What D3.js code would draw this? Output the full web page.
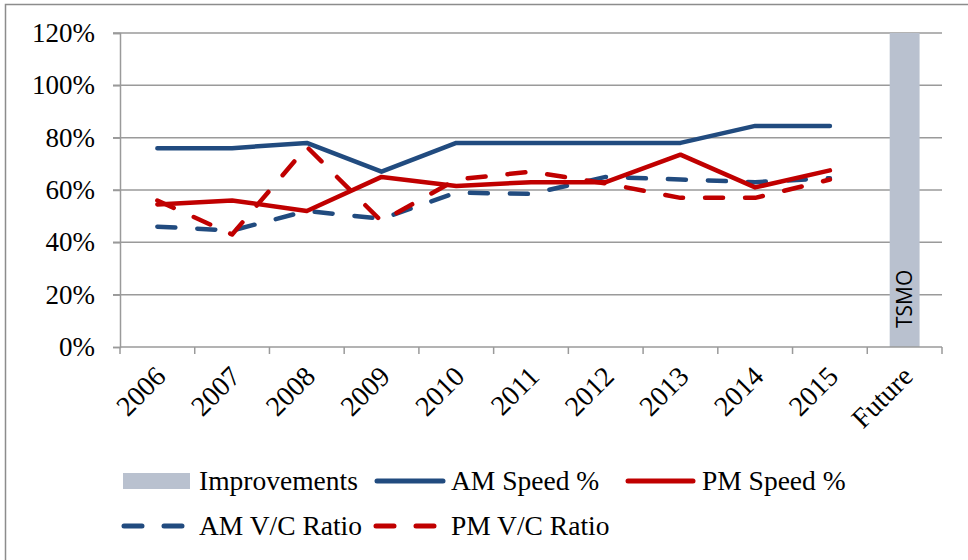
<!DOCTYPE html>
<html>
<head>
<meta charset="utf-8">
<script src="https://cdn.jsdelivr.net/npm/d3@7"></script>
<style>
  html, body { margin: 0; padding: 0; background: #fff; }
  svg { display: block; }
</style>
</head>
<body>
<svg id="chart" width="968" height="560"></svg>
<script>
// Categories along the x axis
const categories = ["2006", "2007", "2008", "2009", "2010", "2011", "2012", "2013", "2014", "2015", "Future"];
const years = categories.slice(0, 10);

// Series values (percent)
const amSpeed = [76, 76, 78, 67, 78, 78, 78, 78, 84.5, 84.5];
const pmSpeed = [54.5, 56, 52, 65, 61.5, 63, 63, 73.5, 61, 67.5];
const amVC    = [46, 44.5, 52, 49, 59, 58.5, 65, 64, 63, 64.5];
const pmVC    = [56, 43, 76.5, 48, 64, 67, 62.5, 57, 57, 64];

// Improvements bar (only the "Future" category)
const improvements = [{ cat: "Future", value: 120, label: "TSMO" }];

// Y axis tick values (percent)
const yTicks = [0, 20, 40, 60, 80, 100, 120];

const BLUE = "#214B7F";
const RED = "#C00000";
const GREY_BAR = "#B9C1CF";
const GRID = "#9a9a9a";
const SERIF = "'Liberation Serif', 'Times New Roman', serif";

const svg = d3.select("#chart");

// Outer frame
svg.append("rect")
  .attr("x", 5.5).attr("y", 4.5)
  .attr("width", 1000).attr("height", 600)
  .attr("fill", "none").attr("stroke", "#8c8c8c").attr("stroke-width", 1.5);

const x = d3.scaleBand().domain(categories).range([120, 942]).paddingInner(0).paddingOuter(0);
const y = d3.scaleLinear().domain([0, 120]).range([347, 33]);
const cx = d => x(d) + x.bandwidth() / 2;

// Horizontal gridlines
svg.append("g").selectAll("line").data(yTicks.filter(t => t > 0)).join("line")
  .attr("x1", 113).attr("x2", 942)
  .attr("y1", d => y(d)).attr("y2", d => y(d))
  .attr("stroke", GRID).attr("stroke-width", 1.5);

// Improvements bar
const barW = x.bandwidth() * 0.4;
svg.append("g").selectAll("rect").data(improvements).join("rect")
  .attr("x", d => cx(d.cat) - barW / 2)
  .attr("width", barW)
  .attr("y", d => y(d.value))
  .attr("height", d => y(0) - y(d.value))
  .attr("fill", GREY_BAR);

svg.append("g").selectAll("text").data(improvements).join("text")
  .attr("transform", d => `translate(${cx(d.cat) + 7.5},${y(0) - 19}) rotate(-90)`)
  .attr("font-family", "'Open Sans', 'Noto Sans', sans-serif")
  .attr("font-size", 21)
  .attr("fill", "#000")
  .text(d => d.label);

// Y axis
const yAxis = d3.axisLeft(y).tickValues(yTicks).tickSize(7).tickPadding(18).tickFormat(d => d + "%");
const gy = svg.append("g").attr("transform", "translate(120,0)").call(yAxis);
gy.select(".domain").attr("stroke", GRID).attr("stroke-width", 1.5);
gy.selectAll(".tick line").attr("stroke", GRID).attr("stroke-width", 1.5);
gy.selectAll(".tick text").attr("font-family", SERIF).attr("font-size", 27).attr("fill", "#000");

// X axis with ticks at band boundaries
const bounds = categories.map(c => x(c)).concat([x.range()[1]]);
svg.append("line")
  .attr("x1", 120).attr("x2", 942).attr("y1", y(0)).attr("y2", y(0))
  .attr("stroke", GRID).attr("stroke-width", 1.5);
svg.append("g").selectAll("line").data(bounds).join("line")
  .attr("x1", d => d).attr("x2", d => d)
  .attr("y1", y(0)).attr("y2", y(0) + 7)
  .attr("stroke", GRID).attr("stroke-width", 1.5);

svg.append("g").selectAll("text").data(categories).join("text")
  .attr("transform", d => `translate(${cx(d) + 10},${y(0) + 31}) rotate(-45)`)
  .attr("text-anchor", "end")
  .attr("font-family", SERIF)
  .attr("font-size", 28)
  .attr("fill", "#000")
  .text(d => d);

// Lines
const line = d3.line().x((d, i) => cx(years[i])).y(d => y(d));
const DASH = "18,22";
const series = [
  { name: "AM V/C Ratio", values: amVC, color: BLUE, dash: DASH },
  { name: "PM V/C Ratio", values: pmVC, color: RED, dash: DASH },
  { name: "AM Speed %", values: amSpeed, color: BLUE, dash: null },
  { name: "PM Speed %", values: pmSpeed, color: RED, dash: null }
];
svg.append("g").selectAll("path").data(series).join("path")
  .attr("d", d => line(d.values))
  .attr("fill", "none")
  .attr("stroke", d => d.color)
  .attr("stroke-width", 4.5)
  .attr("stroke-linecap", "round")
  .attr("stroke-linejoin", "round")
  .attr("stroke-dasharray", d => d.dash);

// Legend
const legend = svg.append("g").attr("font-family", SERIF).attr("font-size", 27.5).attr("fill", "#000");
const legendItems = [
  { type: "rect", label: "Improvements", x0: 123, x1: 190, tx: 199, ty: 481, color: GREY_BAR },
  { type: "line", label: "AM Speed %", x0: 377, x1: 443, tx: 451, ty: 481, color: BLUE, dash: null },
  { type: "line", label: "PM Speed %", x0: 628, x1: 693, tx: 702, ty: 481, color: RED, dash: null },
  { type: "line", label: "AM V/C Ratio", x0: 124, x1: 184, tx: 199, ty: 526, color: BLUE, dash: DASH },
  { type: "line", label: "PM V/C Ratio", x0: 376, x1: 436, tx: 451, ty: 526, color: RED, dash: DASH }
];
legendItems.forEach(it => {
  if (it.type === "rect") {
    legend.append("rect")
      .attr("x", it.x0).attr("y", it.ty - 8)
      .attr("width", it.x1 - it.x0).attr("height", 16)
      .attr("fill", it.color);
  } else {
    legend.append("line")
      .attr("x1", it.x0).attr("x2", it.x1).attr("y1", it.ty).attr("y2", it.ty)
      .attr("stroke", it.color).attr("stroke-width", 5)
      .attr("stroke-linecap", "round")
      .attr("stroke-dasharray", it.dash);
  }
  legend.append("text")
    .attr("x", it.tx).attr("y", it.ty)
    .attr("dy", "0.34em")
    .text(it.label);
});
</script>
</body>
</html>
